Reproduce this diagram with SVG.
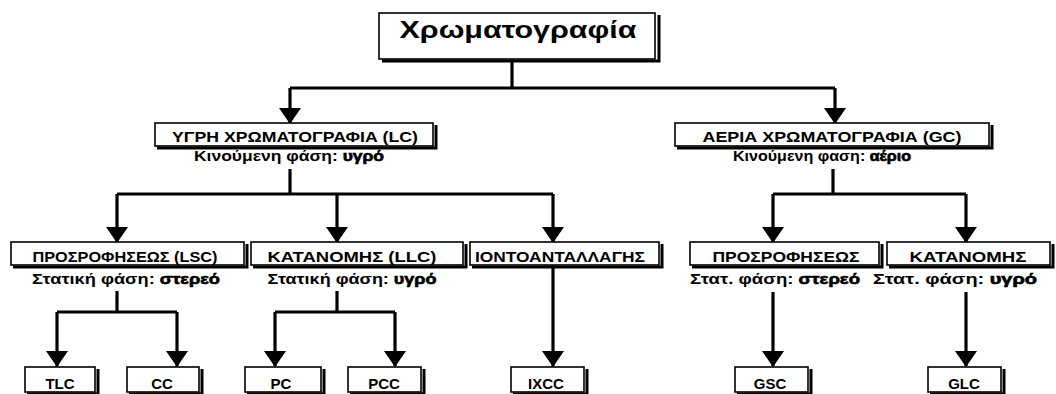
<svg xmlns="http://www.w3.org/2000/svg" width="1056" height="394" viewBox="0 0 1056 394">
<style>
  .bx{fill:#fff;stroke:#000;stroke-width:1.6}
  .sh{fill:none;stroke:#000;stroke-width:3}
  .t{font-family:"Liberation Sans","DejaVu Sans",sans-serif;font-weight:bold;fill:#000;text-anchor:middle}
  .lbl{font-size:15px}
  .sub{font-size:14px}
  .val{stroke:#000;stroke-width:0.6}
  .ttl{font-size:23px}
  .ln{fill:none;stroke:#000;stroke-width:3.2}
  .ar{fill:none;stroke:#000;stroke-width:3.2;marker-end:url(#ah)}
</style>
<defs>
  <marker id="ah" viewBox="0 0 16 22" refX="15" refY="11" markerWidth="16" markerHeight="22" markerUnits="userSpaceOnUse" orient="auto">
    <path d="M0,0 L16,11 L0,22 z" fill="#000"/>
  </marker>
</defs>
<rect width="1056" height="394" fill="#fff"/>

<g id="connectors">
  <path class="ln" d="M512,62 V88 M290,88 H835"/>
  <path class="ar" d="M290,88 V123"/>
  <path class="ar" d="M835,88 V123"/>
  <path class="ln" d="M290,169 V194 M117,194 H553"/>
  <path class="ar" d="M117,194 V242"/>
  <path class="ar" d="M337,194 V242"/>
  <path class="ar" d="M553,194 V242"/>
  <path class="ln" d="M833,169 V194 M773,194 H966"/>
  <path class="ar" d="M773,194 V242"/>
  <path class="ar" d="M966,194 V242"/>
  <path class="ln" d="M117,291 V312 M57,312 H177"/>
  <path class="ar" d="M57,312 V366"/>
  <path class="ar" d="M177,312 V366"/>
  <path class="ln" d="M337,291 V312 M275,312 H395"/>
  <path class="ar" d="M275,312 V366"/>
  <path class="ar" d="M395,312 V366"/>
  <path class="ar" d="M553,268 V366"/>
  <path class="ar" d="M773,292 V366"/>
  <path class="ar" d="M966,292 V366"/>
</g>

<g id="chromatography">
  <rect class="bx" x="379" y="13" width="276" height="46"/>
  <path class="sh" d="M382,61 H659 V15"/>
  <text class="t ttl" x="518" y="38" textLength="237" lengthAdjust="spacingAndGlyphs">Χρωματογραφία</text>
</g>

<g id="lc">
  <rect class="bx" x="155" y="123" width="278" height="23"/>
  <path class="sh" d="M157,148 H436 V125"/>
  <text class="t lbl" x="295" y="142" textLength="246" lengthAdjust="spacingAndGlyphs">ΥΓΡΗ ΧΡΩΜΑΤΟΓΡΑΦΙΑ (LC)</text>
  <text class="t sub" x="289" y="161" textLength="190" lengthAdjust="spacingAndGlyphs">Κινούμενη φάση: <tspan class="val">υγρό</tspan></text>
</g>

<g id="gc">
  <rect class="bx" x="675" y="123" width="314" height="23"/>
  <path class="sh" d="M677,148 H992 V125"/>
  <text class="t lbl" x="832" y="142" textLength="259" lengthAdjust="spacingAndGlyphs">ΑΕΡΙΑ ΧΡΩΜΑΤΟΓΡΑΦΙΑ (GC)</text>
  <text class="t sub" x="822" y="161" textLength="178" lengthAdjust="spacingAndGlyphs">Κινούμενη φαση: <tspan class="val">αέριο</tspan></text>
</g>

<g id="lsc">
  <rect class="bx" x="11" y="242" width="233" height="23"/>
  <path class="sh" d="M13,267 H247 V244"/>
  <text class="t lbl" x="125" y="262" textLength="185" lengthAdjust="spacingAndGlyphs">ΠΡΟΣΡΟΦΗΣΕΩΣ (LSC)</text>
  <text class="t sub" x="126" y="284" textLength="188" lengthAdjust="spacingAndGlyphs">Στατική φάση: <tspan class="val">στερεό</tspan></text>
</g>

<g id="llc">
  <rect class="bx" x="251" y="242" width="212" height="23"/>
  <path class="sh" d="M253,267 H466 V244"/>
  <text class="t lbl" x="352" y="262" textLength="169" lengthAdjust="spacingAndGlyphs">ΚΑΤΑΝΟΜΗΣ (LLC)</text>
  <text class="t sub" x="352" y="284" textLength="169" lengthAdjust="spacingAndGlyphs">Στατική φάση: <tspan class="val">υγρό</tspan></text>
</g>

<g id="ion">
  <rect class="bx" x="470" y="242" width="189" height="23"/>
  <path class="sh" d="M472,267 H662 V244"/>
  <text class="t lbl" x="560" y="262" textLength="170" lengthAdjust="spacingAndGlyphs">ΙΟΝΤΟΑΝΤΑΛΛΑΓΗΣ</text>
</g>

<g id="gsc-parent">
  <rect class="bx" x="690" y="242" width="189" height="23"/>
  <path class="sh" d="M692,267 H882 V244"/>
  <text class="t lbl" x="786" y="262" textLength="147" lengthAdjust="spacingAndGlyphs">ΠΡΟΣΡΟΦΗΣΕΩΣ</text>
  <text class="t sub" x="775" y="284" textLength="170" lengthAdjust="spacingAndGlyphs">Στατ. φάση: <tspan class="val">στερεό</tspan></text>
</g>

<g id="glc-parent">
  <rect class="bx" x="887" y="242" width="163" height="23"/>
  <path class="sh" d="M889,267 H1053 V244"/>
  <text class="t lbl" x="968" y="262" textLength="117" lengthAdjust="spacingAndGlyphs">ΚΑΤΑΝΟΜΗΣ</text>
  <text class="t sub" x="955" y="284" textLength="164" lengthAdjust="spacingAndGlyphs">Στατ. φάση: <tspan class="val">υγρό</tspan></text>
</g>

<g id="tlc">
  <rect class="bx" x="25" y="367" width="70" height="25"/>
  <path class="sh" d="M27,394 H98 V369"/>
  <text class="t lbl" x="60" y="389">TLC</text>
</g>
<g id="cc">
  <rect class="bx" x="127" y="367" width="72" height="25"/>
  <path class="sh" d="M129,394 H202 V369"/>
  <text class="t lbl" x="162" y="389">CC</text>
</g>
<g id="pc">
  <rect class="bx" x="245" y="367" width="76" height="25"/>
  <path class="sh" d="M247,394 H324 V369"/>
  <text class="t lbl" x="281" y="389">PC</text>
</g>
<g id="pcc">
  <rect class="bx" x="348" y="367" width="73" height="25"/>
  <path class="sh" d="M350,394 H424 V369"/>
  <text class="t lbl" x="384" y="389">PCC</text>
</g>
<g id="ixcc">
  <rect class="bx" x="511" y="367" width="73" height="25"/>
  <path class="sh" d="M513,394 H587 V369"/>
  <text class="t lbl" x="546" y="389">IXCC</text>
</g>
<g id="gsc">
  <rect class="bx" x="735" y="367" width="73" height="25"/>
  <path class="sh" d="M737,394 H811 V369"/>
  <text class="t lbl" x="770" y="389">GSC</text>
</g>
<g id="glc">
  <rect class="bx" x="928" y="367" width="73" height="25"/>
  <path class="sh" d="M930,394 H1004 V369"/>
  <text class="t lbl" x="964" y="389">GLC</text>
</g>
</svg>
